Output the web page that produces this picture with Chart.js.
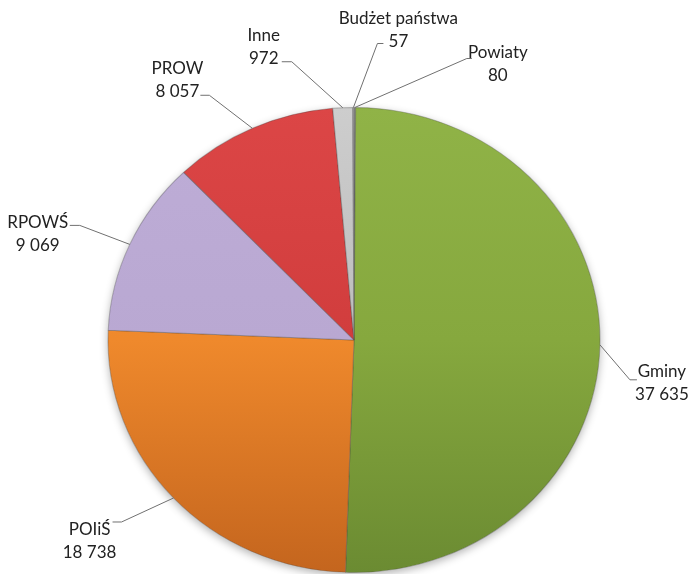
<!DOCTYPE html>
<html>
<head>
<meta charset="utf-8">
<script src="https://cdn.jsdelivr.net/npm/chart.js@4.4.0/dist/chart.umd.min.js"></script>
<style>
  html, body { margin: 0; padding: 0; background: #fff; }
  #wrap { width: 692px; height: 574px; }
</style>
</head>
<body>
<div id="wrap"><canvas id="chart" width="692" height="574"></canvas></div>
<script>
// data, clockwise from 12 o'clock
const labels = ['Powiaty', 'Gminy', 'POIiŚ', 'RPOWŚ', 'PROW', 'Inne', 'Budżet państwa'];
const values = [80, 37635, 18738, 9069, 8057, 972, 57];

// top / middle / bottom shades of each slice
const shades = [
  ['#9a9a9a', '#808080', '#666666'],
  ['#90b347', '#86a83e', '#6b8b32'],
  ['#f7953a', '#ef892c', '#c4651e'],
  ['#beadd7', '#b9a8d2', '#ab99c5'],
  ['#dc4646', '#d13d3d', '#b83232'],
  ['#cdcdcd', '#bdbdbd', '#a8a8a8'],
  ['#b0b0b0', '#969696', '#7c7c7c'],
];

// label placement relative to the slice edge point: elbow, leader end x, first text line
const labelLayout = [
  { elbow: [112, -49], end: 117, text: [143, -55] },
  { elbow: [30, 35], end: 37, text: [62, 27] },
  { elbow: [-52, 24], end: -61, text: [-84, 32] },
  { elbow: [-50, -19], end: -60, text: [-92, -22] },
  { elbow: [-43, -33], end: -52, text: [-75, -60] },
  { elbow: [-51, -46], end: -61, text: [-79, -72] },
  { elbow: [24, -64], end: 30, text: [45, -89] },
];

const STRETCH = 1.058; // the pie is a little wider than tall
const LINE_H = 23;

const fmt = v => String(v).replace(/\B(?=(\d{3})+(?!\d))/g, ' ');

function shade(c) {
  const chart = c.chart;
  const area = chart.chartArea;
  const s = shades[c.dataIndex];
  if (!area) return s[1];
  const g = chart.ctx.createLinearGradient(0, area.top, 0, area.bottom);
  g.addColorStop(0, s[0]);
  g.addColorStop(0.5, s[1]);
  g.addColorStop(1, s[2]);
  return g;
}

const ellipse = {
  id: 'ellipse',
  beforeDatasetsDraw(chart) {
    const arc = chart.getDatasetMeta(0).data[0];
    const { x, y, outerRadius } = arc;
    const ctx = chart.ctx;
    ctx.save();
    ctx.save();
    ctx.shadowColor = 'rgba(0,0,0,0.3)';
    ctx.shadowBlur = 8;
    ctx.shadowOffsetY = 3;
    ctx.beginPath();
    ctx.ellipse(x, y, outerRadius * STRETCH, outerRadius, 0, 0, Math.PI * 2);
    ctx.fillStyle = '#fff';
    ctx.fill();
    ctx.restore();
    ctx.translate(x, y);
    ctx.scale(STRETCH, 1);
    ctx.translate(-x, -y);
  },
  afterDatasetsDraw(chart) {
    chart.ctx.restore();
  },
};

const leaders = {
  id: 'leaders',
  afterDraw(chart) {
    const ctx = chart.ctx;
    const meta = chart.getDatasetMeta(0);
    ctx.save();
    ctx.font = '17px Lato';
    ctx.textAlign = 'center';
    ctx.textBaseline = 'middle';
    meta.data.forEach((arc, i) => {
      const mid = (arc.startAngle + arc.endAngle) / 2;
      const ax = arc.x + Math.cos(mid) * arc.outerRadius * STRETCH;
      const ay = arc.y + Math.sin(mid) * arc.outerRadius;
      const L = labelLayout[i];
      ctx.strokeStyle = '#707070';
      ctx.lineWidth = 1;
      ctx.beginPath();
      ctx.moveTo(ax, ay);
      ctx.lineTo(ax + L.elbow[0], ay + L.elbow[1]);
      ctx.lineTo(ax + L.end, ay + L.elbow[1]);
      ctx.stroke();
      ctx.fillStyle = '#222';
      const tx = ax + L.text[0];
      const ty = ay + L.text[1];
      ctx.fillText(labels[i], tx, ty);
      ctx.fillText(fmt(values[i]), tx, ty + LINE_H);
    });
    ctx.restore();
  },
};

new Chart(document.getElementById('chart').getContext('2d'), {
  type: 'pie',
  data: {
    labels: labels,
    datasets: [{
      data: values,
      backgroundColor: shade,
      borderColor: 'rgba(70,70,70,0.35)',
      borderWidth: 1,
    }],
  },
  options: {
    responsive: false,
    animation: false,
    events: [],
    layout: { padding: { left: 108, right: 92, top: 107, bottom: 1 } },
    plugins: {
      legend: { display: false },
      tooltip: { enabled: false },
    },
  },
  plugins: [ellipse, leaders],
});
</script>
</body>
</html>
